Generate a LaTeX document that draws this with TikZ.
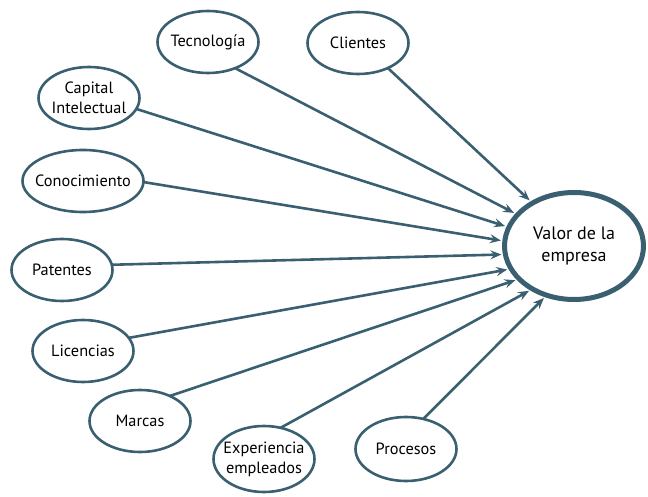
\documentclass[tikz,border=0pt]{standalone}
\usepackage{fontspec}
\setmainfont{PT Sans}
\usetikzlibrary{shapes.geometric,arrows.meta}
\definecolor{ink}{RGB}{58,95,112}
\tikzset{
  oval/.style={ellipse, draw=ink, line width=2.6pt, inner sep=0pt, outer sep=0pt,
    minimum width=101pt, minimum height=62pt},
  txt/.style={align=center, font=\fontsize{16.3}{20}\selectfont, text=black},
  bigtxt/.style={align=center, font=\fontsize{18}{22}\selectfont, text=black},
  link/.style={draw=ink, line width=2.6pt, shorten >=4pt,
    -{Stealth[length=11pt,width=9pt,inset=4pt]}}
}
\begin{document}
\begin{tikzpicture}[x=1pt,y=1pt]
\useasboundingbox (0,0) rectangle (648,496);
% central node
\node[ellipse, draw=ink, line width=5pt, inner sep=0pt, outer sep=0pt,
  minimum width=139pt, minimum height=107pt,
  label={[bigtxt]center:Valor de la\\empresa}] (val) at (574,250) {};
% surrounding factors
\node[oval, label={[txt]center:Tecnología}] (tec) at (208,454) {};
\node[oval, label={[txt]center:Clientes}] (cli) at (358,453) {};
\node[oval, label={[txt]center:Capital\\Intelectual}] (cap) at (89,398) {};
\node[oval, minimum width=121pt, label={[txt]center:Conocimiento}] (con) at (83,315) {};
\node[oval, label={[txt]center:Patentes}] (pat) at (62,226) {};
\node[oval, label={[txt]center:Licencias}] (lic) at (83,145) {};
\node[oval, label={[txt]center:Marcas}] (mar) at (140,75) {};
\node[oval, minimum height=66pt, label={[txt]center:Experiencia\\empleados}] (exp) at (264,37) {};
\node[oval, minimum height=64pt, label={[txt]center:Procesos}] (pro) at (406,47) {};
% arrows into the central node
\draw[link] (cli.-40) -- (val.134);
\draw[link] (tec.-44) -- (val.151);
\draw[link] (cap.-13) -- (val.164);
\draw[link] (con.-1) -- (val.176);
\draw[link] (pat.6) -- (val.187);
\draw[link] (lic.16) -- (val.200);
\draw[link] (mar.40) -- (val.211);
\draw[link] (exp.62) -- (val.226);
\draw[link] (pro.60) -- (val.241);
\end{tikzpicture}
\end{document}
